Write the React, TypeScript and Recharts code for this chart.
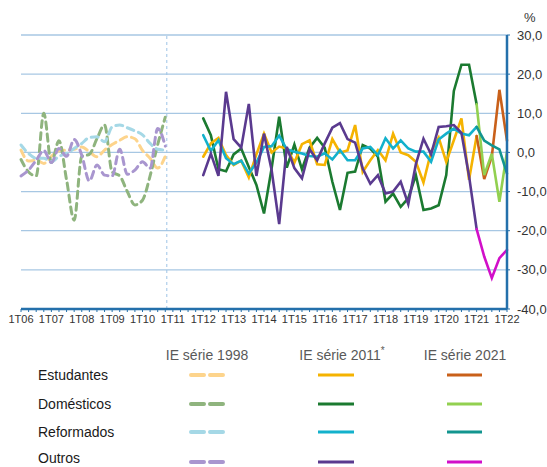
import { CartesianGrid, Line, LineChart, ReferenceLine, XAxis, YAxis } from 'recharts';

// quarter index 0 = 1T06 ... 64 = 1T22
const yearLabels = [
  '1T06', '1T07', '1T08', '1T09', '1T10', '1T11', '1T12', '1T13', '1T14',
  '1T15', '1T16', '1T17', '1T18', '1T19', '1T20', '1T21', '1T22',
];
const yTicks = [-40, -30, -20, -10, 0, 10, 20, 30];

const start1998 = 0; // 1T06
const start2011 = 24; // 1T12
const start2021 = 60; // 1T21
const seriesBreak = 19.2; // dashed separator after 4T10

const estudantes1998 = [0.6, -2.2, -2, -2.8, -1, 0.4, 0.6, 0.8, 1.4, 0.2, -1.1, 0.6, 2, 3.1, 4, 3.5, 0.5, -1.5, -4, -1];
const domesticos1998 = [-1.8, -5, -6, 10, -2.6, 3, -7, -17.3, -1, -0.5, 3.5, 7, -5, -6, -10, -13.4, -12.2, -6, 2, 9];
const reformados1998 = [1.9, -0.3, -1.5, -1.5, -2.4, -1, -0.3, 1, 2.3, 3.8, 4, 2.7, 6.5, 7, 6.3, 5.5, 4.5, 2.3, 0.8, 0.6];
const outros1998 = [-6, -4.5, -2, 0.5, -2.6, 1, -1, 3.3, -0.7, -7.3, -3.2, -5.8, -6, 0.8, -5.6, -4.5, -2.4, -4, 6.1, 1.6];

const estudantes2011 = [
  -1.1, 2.3, 3.7, -0.7, -3.2, -2.1, -6.4, -0.5, 4.8, 0, 1.5, 1, -2.6, 2.1, 3.1, -3, -3.2, 3.4, 0,
  0.5, 7, -5, -2, 0.6, -2, 4.8, 0, -0.7, -2.4, -7.7, 0.2, 3.8, -2.4, 3.1, 8.7, -7, 4.2,
];
const domesticos2011 = [
  8.7, 4.4, -4.3, -4.8, -0.5, 1, -3.7, -8.3, -15.6, -4.1, 9.1, -3.9, 2, -4.3, 1.2, 3.7, 1.2, -7.5, -14.7,
  -5.2, -4.9, 1.9, 1, -1.1, -12.6, -10.5, -13.9, -11.7, -5.8, -14.7, -14.3, -13.5, -5.8, 15.7, 22.4, 22.4, 12.3,
];
const reformados2011 = [
  4.4, 0.4, 3.1, -1.5, -3, -2.1, -5.4, -2.6, 1.4, 1.6, 4.3, 0.8, 0.2, -0.3, -0.9, -1.1, -0.2, -1.8, 0.6,
  -2, -2, 1, 1.4, -0.7, 3.6, 1, 3.1, 1, 0.2, 0.2, -2.4, 3.3, 4.8, 6.1, 4.8, 4.4, 6.5,
];
const outros2011 = [
  -5.8, -0.3, -6, 15.5, 3.4, 1.2, 12.4, -6, 4.8, -4.5, -18.3, 1.4, -4, -6.6, 0.8, -2, 2.3, 6.3, 7.5,
  3.4, 2.5, -4.1, -8, -5.8, -10.5, -10, -7.5, -13.2, -3, 3.5, -0.5, 6.5, 6.7, 7, 5, -6, -19.6,
];

const estudantes2021 = [4.2, -6.8, -1, 16, 3];
const domesticos2021 = [12.3, -5.8, -0.3, -12.6, 0.2];
const reformados2021 = [6.5, 3, 1.8, 0.8, -5.4];
const outros2021 = [-19.6, -26.6, -32.1, -27, -24.9];

const categories = ['Estudantes', 'Domésticos', 'Reformados', 'Outros'];
const seriesNames = ['IE série 1998', 'IE série 2011', 'IE série 2021'];

const series = [
  { key: 'est98', values: estudantes1998, start: start1998, color: '#fdd48c', row: 0, col: 0 },
  { key: 'dom98', values: domesticos1998, start: start1998, color: '#8fb47e', row: 1, col: 0 },
  { key: 'ref98', values: reformados1998, start: start1998, color: '#a5d8e6', row: 2, col: 0 },
  { key: 'out98', values: outros1998, start: start1998, color: '#a996cf', row: 3, col: 0 },
  { key: 'dom11', values: domesticos2011, start: start2011, color: '#1b7a30', row: 1, col: 1 },
  { key: 'est11', values: estudantes2011, start: start2011, color: '#f5b301', row: 0, col: 1 },
  { key: 'ref11', values: reformados2011, start: start2011, color: '#13b1cc', row: 2, col: 1 },
  { key: 'out11', values: outros2011, start: start2011, color: '#5a3a8f', row: 3, col: 1 },
  { key: 'est21', values: estudantes2021, start: start2021, color: '#c9601a', row: 0, col: 2 },
  { key: 'dom21', values: domesticos2021, start: start2021, color: '#92d050', row: 1, col: 2 },
  { key: 'ref21', values: reformados2021, start: start2021, color: '#12958f', row: 2, col: 2 },
  { key: 'out21', values: outros2021, start: start2021, color: '#d10fc9', row: 3, col: 2 },
];

const lastIndex = (yearLabels.length - 1) * 4;
const xTicks = Array.from({ length: lastIndex + 1 }, (_, i) => i);

const chartData = xTicks.map((i) => {
  const row: Record<string, number> = { i };
  series.forEach((s) => {
    const v = s.values[i - s.start];
    if (v !== undefined) row[s.key] = v;
  });
  return row;
});

const AXIS = '#2470ab';
const GRID = '#a7c7e3';
const FONT = 'Arial, "Liberation Sans", sans-serif';

const fmtY = (v: number) => v.toFixed(1).replace('.', ',');
const fmtX = (i: number) => (i % 4 === 0 ? yearLabels[i / 4] : '');

const colCenters = [207, 342, 465];
const sampleX = [
  [191, 223],
  [318, 354],
  [447, 482],
];
const rowLineY = [45, 74, 102, 132];
const rowTextY = [46, 75, 103, 129];

function Legend() {
  return (
    <svg width={547} height={137} style={{ position: 'absolute', left: 0, top: 330 }} fontFamily={FONT}>
      {seriesNames.map((name, c) => (
        <text key={name} x={colCenters[c]} y={26} textAnchor="middle" dominantBaseline="middle" fontSize={14} fill="#595959">
          {name}
          {c === 1 && (
            <tspan dy={-5} fontSize={10}>
              *
            </tspan>
          )}
        </text>
      ))}
      {categories.map((cat, r) => (
        <text key={cat} x={38} y={rowTextY[r]} dominantBaseline="middle" fontSize={14} fill="#1a1a1a">
          {cat}
        </text>
      ))}
      {series.map((s) => (
        <line
          key={s.key}
          x1={sampleX[s.col][0]}
          x2={sampleX[s.col][1]}
          y1={rowLineY[s.row]}
          y2={rowLineY[s.row]}
          stroke={s.color}
          strokeWidth={s.col === 0 ? 4 : 3}
          strokeDasharray={s.col === 0 ? '13 6' : undefined}
          strokeLinecap={s.col === 0 ? 'round' : 'butt'}
        />
      ))}
    </svg>
  );
}

export default function App() {
  return (
    <div style={{ position: 'absolute', left: 0, top: 0, width: 547, height: 467, background: '#fff', fontFamily: FONT }}>
      <div style={{ position: 'absolute', left: 524, top: 10, fontSize: 13, color: '#333' }}>%</div>
      <LineChart width={547} height={330} data={chartData} margin={{ top: 35, right: 0, left: 21, bottom: 0 }}>
        <CartesianGrid vertical={false} stroke={GRID} strokeWidth={1.3} />
        <XAxis
          dataKey="i"
          type="number"
          domain={[0, lastIndex]}
          ticks={xTicks}
          interval={0}
          tickFormatter={fmtX}
          height={21}
          axisLine={{ stroke: AXIS, strokeWidth: 2.5 }}
          tickLine={{ stroke: AXIS }}
          tickSize={3}
          tickMargin={3}
          tick={{ fill: '#333', fontSize: 11, fontFamily: FONT }}
        />
        <YAxis
          orientation="right"
          domain={[-40, 30]}
          ticks={yTicks}
          interval={0}
          tickFormatter={fmtY}
          width={40}
          axisLine={{ stroke: AXIS, strokeWidth: 2.5 }}
          tickLine={{ stroke: AXIS }}
          tickSize={3}
          tickMargin={7}
          tick={{ fill: '#333', fontSize: 13, fontFamily: FONT, textAnchor: 'start' }}
        />
        <ReferenceLine x={seriesBreak} stroke="#9dc3e6" strokeDasharray="3 3" />
        {series.map((s) => (
          <Line
            key={s.key}
            dataKey={s.key}
            type={s.col === 0 ? 'monotone' : 'linear'}
            stroke={s.color}
            strokeWidth={s.col === 0 ? 3 : 2.6}
            strokeDasharray={s.col === 0 ? '7 5' : undefined}
            strokeLinecap="round"
            dot={false}
            activeDot={false}
            isAnimationActive={false}
          />
        ))}
      </LineChart>
      <Legend />
    </div>
  );
}
